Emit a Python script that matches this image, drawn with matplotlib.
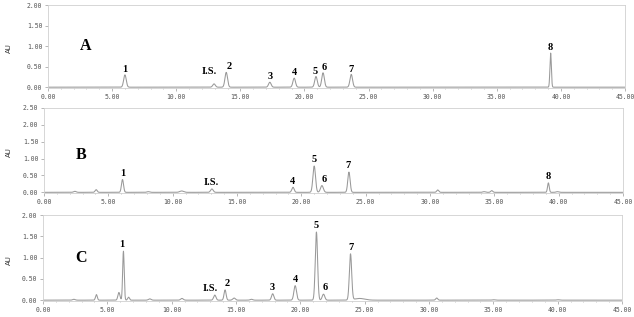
import numpy as np
import matplotlib
matplotlib.use("Agg")
import matplotlib.pyplot as plt
from matplotlib.ticker import MultipleLocator

# peak tables: retention time (min), height (AU), width (min)
a_rt = [6.0, 12.95, 13.9, 17.3, 19.2, 20.9, 21.45, 23.65, 39.2]
a_h = [0.30, 0.08, 0.36, 0.12, 0.22, 0.26, 0.35, 0.31, 0.83]
a_w = [0.1, 0.1, 0.1, 0.1, 0.1, 0.1, 0.1, 0.1, 0.055]
a_lab = ["1", "I.S.", "2", "3", "4", "5", "6", "7", "8"]
a_labx = [6.0, 12.6, 14.1, 17.3, 19.2, 20.8, 21.55, 23.65, 39.2]
a_laby = [0.32, 0.26, 0.39, 0.14, 0.24, 0.28, 0.38, 0.33, 0.86]

b_rt = [2.4, 4.05, 6.1, 8.1, 10.7, 13.05, 19.35, 21.0, 21.6, 23.7, 30.6, 34.2, 34.8, 39.2, 39.9]
b_h = [0.03, 0.08, 0.38, 0.02, 0.04, 0.10, 0.15, 0.78, 0.20, 0.60, 0.07, 0.02, 0.05, 0.28, 0.02]
b_w = [0.1, 0.08, 0.08, 0.1, 0.15, 0.1, 0.09, 0.1, 0.11, 0.09, 0.08, 0.1, 0.08, 0.065, 0.1]
b_lab = ["1", "I.S.", "4", "5", "6", "7", "8"]
b_labx = [6.1, 13.0, 19.3, 21.0, 21.75, 23.65, 39.2]
b_laby = [0.42, 0.15, 0.19, 0.84, 0.25, 0.65, 0.33]

c_rt = [2.4, 4.15, 5.9, 6.25, 6.65, 8.3, 10.8, 13.35, 14.15, 14.85, 16.2, 17.85, 19.6,
        21.25, 21.8, 23.9, 24.6, 30.6, 35.0, 40.0]
c_h = [0.02, 0.13, 0.18, 1.15, 0.07, 0.03, 0.04, 0.12, 0.24, 0.05, 0.02, 0.15, 0.34,
       1.60, 0.14, 1.08, 0.04, 0.05, 0.01, 0.01]
c_w = [0.1, 0.07, 0.08, 0.06, 0.07, 0.1, 0.1, 0.09, 0.08, 0.1, 0.1, 0.09, 0.1,
       0.09, 0.1, 0.09, 0.4, 0.08, 0.1, 0.1]
c_lab = ["1", "I.S.", "2", "3", "4", "5", "6", "7"]
c_labx = [6.1, 13.0, 14.35, 17.8, 19.6, 21.25, 21.95, 23.9]
c_laby = [1.19, 0.17, 0.28, 0.19, 0.38, 1.64, 0.20, 1.12]

panels = [
    ("A", a_rt, a_h, a_w, a_lab, a_labx, a_laby, 2.0, [48, 5, 625, 88], 1.0),
    ("B", b_rt, b_h, b_w, b_lab, b_labx, b_laby, 2.5, [44, 108, 623, 193], 1.1),
    ("C", c_rt, c_h, c_w, c_lab, c_labx, c_laby, 2.0, [43, 215, 622, 301], 1.0),
]

W, H = 634, 317
fig = plt.figure(figsize=(W / 100, H / 100), dpi=100)
t = np.linspace(0, 45, 9001)

for name, rt, h, w, lab, labx, laby, ymax, box, lety in panels:
    x0, y0, x1, y1 = box
    ax = fig.add_axes([x0 / W, 1 - y1 / H, (x1 - x0) / W, (y1 - y0) / H])
    sig = np.zeros_like(t)
    for r, hh, ww in zip(rt, h, w):
        sig += hh * np.exp(-0.5 * ((t - r) / ww) ** 2)
    ax.plot(t, sig, color="#999999", lw=0.75)
    ax.set_xlim(0, 45)
    ax.set_ylim(-0.02, ymax)
    ax.xaxis.set_major_locator(MultipleLocator(5))
    ax.xaxis.set_minor_locator(MultipleLocator(1))
    ax.yaxis.set_major_locator(MultipleLocator(0.5))
    ax.xaxis.set_major_formatter(lambda v, p: "%.2f" % v)
    ax.yaxis.set_major_formatter(lambda v, p: "%.2f" % v)
    ax.tick_params(labelsize=4.7, colors="#9a9a9a", labelcolor="#555555",
                   length=2, width=0.5, pad=2)
    ax.tick_params(which="minor", length=1, width=0.4, colors="#9a9a9a")
    for s in ax.spines.values():
        s.set_color("#d0d0d0")
        s.set_linewidth(0.6)
    for tl in ax.get_xticklabels() + ax.get_yticklabels():
        tl.set_family("DejaVu Sans Mono")
    for s, lx, ly in zip(lab, labx, laby):
        ax.text(lx, ly, s, ha="center", va="bottom", fontsize=7.5,
                fontweight="bold", family="Liberation Serif")
    ax.text(2.5, lety, name, ha="left", va="center", fontsize=11.5,
            fontweight="bold", family="Liberation Serif")
    fig.text(9 / W, 1 - ((y0 + y1) / 2 + 2) / H, "AU", rotation=90, fontsize=5,
             ha="center", va="center", color="#333333")

fig.savefig("out.png", dpi=100)
